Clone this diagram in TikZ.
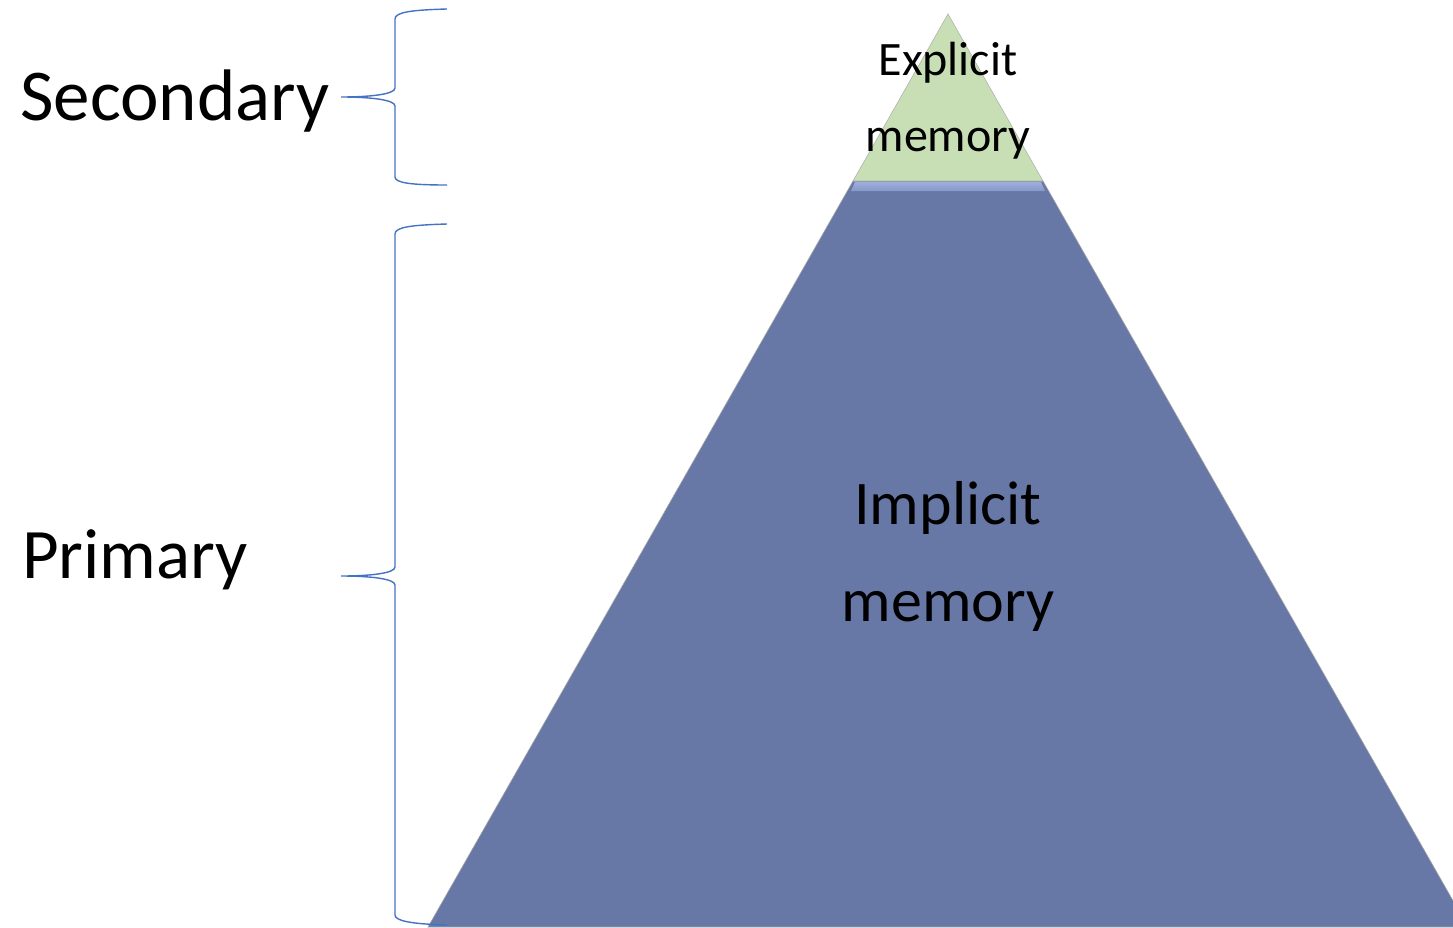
\documentclass[tikz,border=0pt]{standalone}
\usepackage{fontspec}
\setmainfont{Carlito}
\definecolor{bracecol}{HTML}{4472C4}
\definecolor{bluefill}{HTML}{6778A7}
\definecolor{bandfill}{HTML}{9DAEDC}
\definecolor{greenfill}{HTML}{C8DFB5}
\begin{document}
\begin{tikzpicture}[x=1pt,y=-1pt,
  brace/.style={draw=bracecol,line width=1.4pt},
  bigtext/.style={font=\fontsize{73}{88}\selectfont,anchor=base west,inner sep=0pt},
]
\useasboundingbox (0,0) rectangle (1453,927);
\begin{scope}
\clip (0,0) rectangle (1453,927);
% lower (blue) part
\path[fill=bluefill,draw=gray!70,line width=0.6pt] (853,181) -- (1043,181) -- (1468,927) -- (428,927) -- cycle;
\path[top color=bandfill,bottom color=bandfill!60!bluefill] (855,182) -- (1041,182) -- (1045,191) -- (851,191) -- cycle;
% upper (green) part
\path[fill=greenfill,draw=gray!60,line width=0.6pt] (948,14) -- (1043,181) -- (853,181) -- cycle;
\end{scope}
% braces
\draw[brace] (447,9) .. controls (412,10) and (395,12) .. (395,19) -- (395,88)
  .. controls (395,94) and (372,97) .. (341,97)
  .. controls (372,97) and (395,100) .. (395,106) -- (395,177)
  .. controls (395,183) and (412,185) .. (447,185);
\draw[brace] (447,224) .. controls (412,225) and (395,227) .. (395,234) -- (395,567)
  .. controls (395,573) and (372,576) .. (341,576)
  .. controls (372,576) and (395,579) .. (395,585) -- (395,915)
  .. controls (395,921) and (412,924) .. (447,925);
% labels
\node[bigtext] (secondary) at (20,120) {Secondary};
\node[bigtext,font=\fontsize{71}{88}\selectfont] (primary) at (22,578) {Primary};
\node[font=\fontsize{48}{75}\selectfont,anchor=base,inner sep=0pt] (explicit1) at (948,75) {Explicit};
\node[font=\fontsize{48}{75}\selectfont,anchor=base,inner sep=0pt] (explicit2) at (948,151) {memory};
\node[font=\fontsize{62}{98}\selectfont,anchor=base,inner sep=0pt] (implicit1) at (948,524) {Implicit};
\node[font=\fontsize{62}{98}\selectfont,anchor=base,inner sep=0pt] (implicit2) at (948,621) {memory};
\end{tikzpicture}
\end{document}
